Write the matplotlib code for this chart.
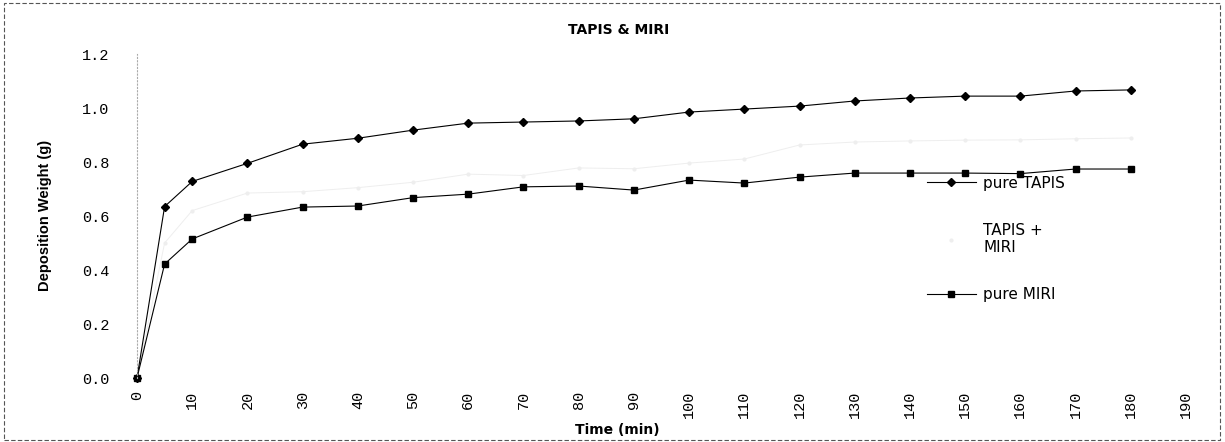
import matplotlib
matplotlib.use("Agg")
import matplotlib.pyplot as plt
from matplotlib.patches import Rectangle
from matplotlib.lines import Line2D

# time (min) and deposition weight (g)
time_min = [0, 5, 10, 20, 30, 40, 50, 60, 70, 80, 90, 100, 110, 120, 130, 140, 150, 160, 170, 180]
pure_tapis = [0, 0.635, 0.728, 0.795, 0.866, 0.888, 0.918, 0.944, 0.948, 0.952,
              0.960, 0.985, 0.996, 1.007, 1.026, 1.037, 1.044, 1.044, 1.063, 1.067]
tapis_miri = [0, 0.50, 0.62, 0.685, 0.69, 0.705, 0.725, 0.755, 0.75, 0.778,
              0.775, 0.796, 0.811, 0.863, 0.874, 0.878, 0.881, 0.882, 0.886, 0.889]
pure_miri = [0, 0.422, 0.515, 0.596, 0.633, 0.637, 0.668, 0.681, 0.708, 0.711,
             0.696, 0.733, 0.722, 0.744, 0.759, 0.759, 0.759, 0.757, 0.774, 0.774]
x_ticks = list(range(0, 200, 10))
y_ticks = [0.0, 0.2, 0.4, 0.6, 0.8, 1.0, 1.2]

faint = "#eeeeee"

fig = plt.figure(figsize=(12.25, 4.42), dpi=100)
ax = fig.add_axes([137 / 1225, 1 - 378 / 442, (1186 - 137) / 1225, (378 - 54) / 442])

ax.plot(time_min, tapis_miri, color=faint, linewidth=0.7, marker="o", markersize=2, clip_on=False)
ax.plot(time_min, pure_tapis, color="black", linewidth=0.8, marker="D", markersize=4, clip_on=False)
ax.plot(time_min, pure_miri, color="black", linewidth=0.8, marker="s", markersize=5, clip_on=False)

ax.set_xlim(0, 190)
ax.set_ylim(0, 1.2)
ax.set_xticks(x_ticks)
ax.set_xticklabels([str(t) for t in x_ticks], rotation=90, family="Liberation Mono", fontsize=11)
ax.set_yticks(y_ticks)
ax.set_yticklabels([f"{v:.1f}" for v in y_ticks], family="Liberation Mono", fontsize=11)
ax.tick_params(axis="y", length=0, pad=20)
ax.tick_params(axis="x", length=0, pad=9)
for side in ["top", "right", "bottom"]:
    ax.spines[side].set_visible(False)
ax.spines["left"].set_color("#aaaaaa")
ax.spines["left"].set_linestyle((0, (1, 2)))
ax.spines["left"].set_linewidth(0.8)
ax.patch.set_alpha(0)

fig.text(619 / 1225, 1 - 30 / 442, "TAPIS & MIRI", ha="center", va="center",
         fontsize=10, fontweight="bold")
fig.text(617 / 1225, 1 - 430 / 442, "Time (min)", ha="center", va="center",
         fontsize=10, fontweight="bold")
fig.text(45 / 1225, 1 - 215 / 442, "Deposition Weight (g)", ha="center", va="center",
         rotation=90, fontsize=10.5, fontweight="bold", family="Liberation Sans")

handles = [
    Line2D([], [], color="black", linewidth=0.8, marker="D", markersize=4),
    Line2D([], [], color=faint, linewidth=0, marker="o", markersize=2),
    Line2D([], [], color="black", linewidth=0.8, marker="s", markersize=5),
]
fig.legend(handles, ["pure TAPIS", "TAPIS +\nMIRI", "pure MIRI"],
           loc="upper left", bbox_to_anchor=(913 / 1225, 1 - 162 / 442),
           frameon=False, prop={"size": 11}, handlelength=3.2, labelspacing=2.1,
           handletextpad=0.5)

fig.patches.append(Rectangle((4 / 1225, 2 / 442), 1216 / 1225, 437 / 442,
                             transform=fig.transFigure, fill=False,
                             edgecolor="#555555", linewidth=0.8, linestyle=(0, (4, 2))))

fig.savefig("out.png", dpi=100)
